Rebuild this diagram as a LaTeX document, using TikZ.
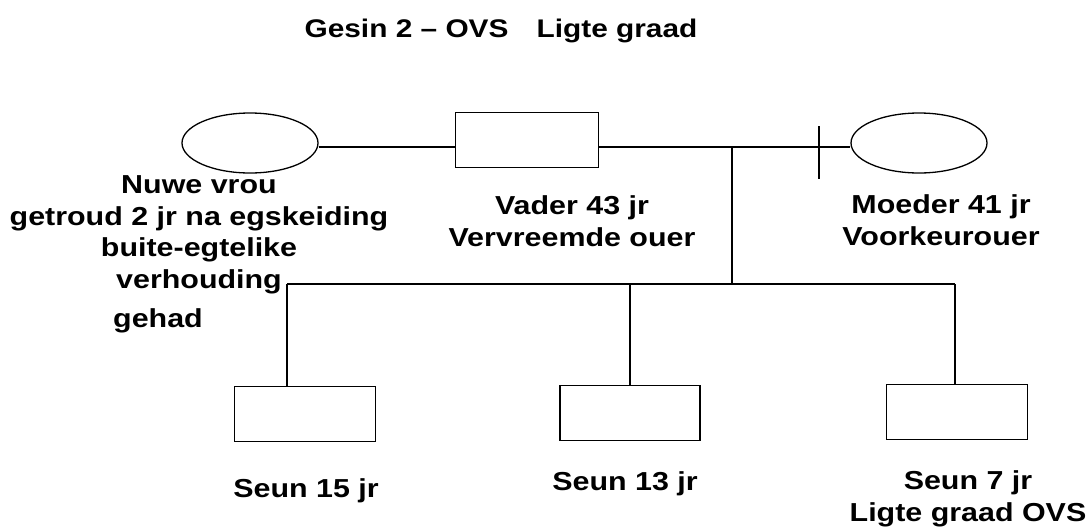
\documentclass[tikz,border=0pt]{standalone}
\usepackage{fontspec}
\newfontfamily\lblfont{Liberation Sans}[FakeStretch=1.17]
\usetikzlibrary{shapes.geometric}

\begin{document}
\begin{tikzpicture}[x=1pt,y=-1pt,line width=1.3pt,
    lbl/.style={anchor=base,align=center,
      font=\lblfont\bfseries\fontsize{26}{31.5}\selectfont},
    manbox/.style={draw,rectangle,inner sep=0pt,
      minimum width=141pt,minimum height=55pt},
    womanoval/.style={draw,ellipse,inner sep=0pt,
      minimum width=136pt,minimum height=60pt}]
  \useasboundingbox (0,0) rectangle (1091,528);

  \node[lbl,font=\lblfont\bfseries\fontsize{25.5}{30}\selectfont] (title)
    at (501,37) {Gesin 2 – OVS\hspace{1.1em}Ligte graad};

  % ouers
  \node[womanoval] (wife) at (250,143) {};
  \node[manbox,minimum width=143pt] (vader) at (527,140) {};
  \node[womanoval] (moeder) at (919,143) {};

  % base = grondlyn van laaste reel
  \node[lbl] (wifelbl) at (199,288)
    {Nuwe vrou\\getroud 2 jr na egskeiding\\buite-egtelike\\verhouding};
  \node[lbl] (gehad) at (158,327) {gehad};
  \node[lbl] (vaderlbl) at (572,246) {Vader 43 jr\\Vervreemde ouer};
  \node[lbl] (moederlbl) at (941,245) {Moeder 41 jr\\Voorkeurouer};

  % huwelikslyn
  \coordinate (mline) at (0,147);
  \coordinate (cut) at (819,147);
  \coordinate (drop) at (732,147);
  \draw (wife.east |- mline) -- (vader.west |- mline);
  \draw (vader.east |- mline) -- (moeder.west |- mline);
  \draw (cut) ++(0,-21) -- ++(0,53);

  % kinders
  \node[manbox] (kid1) at (305,414) {};
  \node[manbox,minimum width=140pt] (kid2) at (630,413) {};
  \node[manbox] (kid3) at (957,412) {};

  \node[lbl] (kid1lbl) at (306,497) {Seun 15 jr};
  \node[lbl] (kid2lbl) at (625,490) {Seun 13 jr};
  \node[lbl] (kid3lbl) at (968,521) {Seun 7 jr\\Ligte graad OVS};

  \coordinate (sibL) at (287,284);
  \coordinate (sibR) at (955,284);
  \draw (drop) -- (drop |- sibL);
  \draw (sibL) -- (sibR);
  \draw (sibL) -- (sibL |- kid1.north);
  \draw (kid2.north |- sibL) -- (kid2.north);
  \draw (sibR) -- (sibR |- kid3.north);
\end{tikzpicture}
\end{document}
